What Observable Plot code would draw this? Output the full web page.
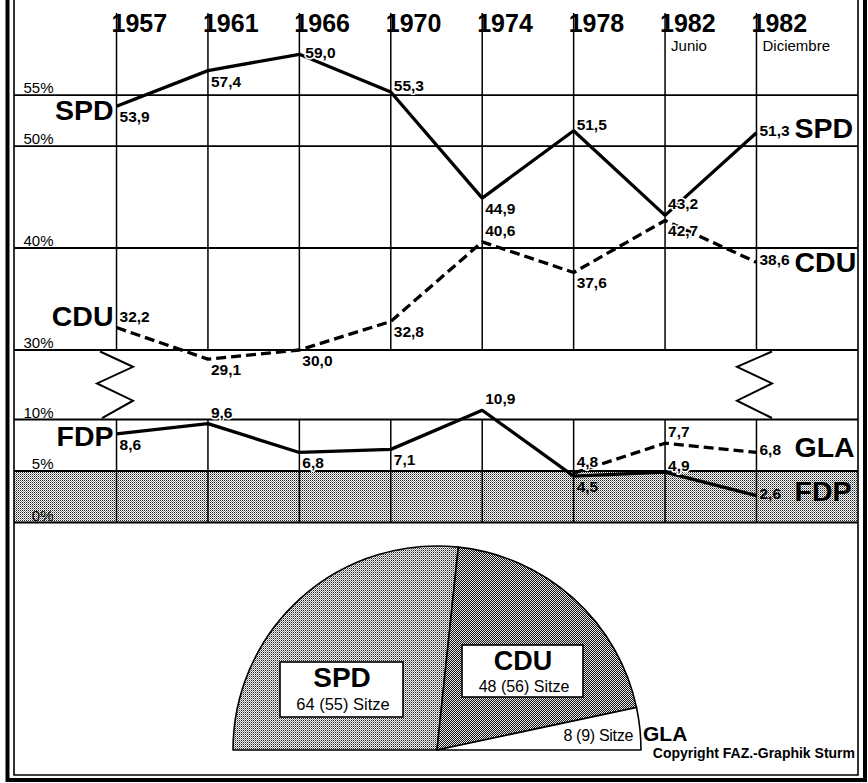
<!DOCTYPE html>
<html><head><meta charset="utf-8">
<script src="https://cdn.jsdelivr.net/npm/d3@7"></script>
<script src="https://cdn.jsdelivr.net/npm/@observablehq/plot@0.6"></script>
<style>
body{margin:0;background:#fff;}
#chart{width:868px;height:783px;}
</style></head><body><div id="chart"></div>
<script>
// ---- data ----
const years = ["1957","1961","1966","1970","1974","1978","1982 Junio","1982 Diciembre"];
const yearLabels = ["1957","1961","1966","1970","1974","1978","1982","1982"];
const yearSub = ["","","","","","","Junio","Diciembre"];
const spd = [53.9,57.4,59.0,55.3,44.9,51.5,43.2,51.3];
const cdu = [32.2,29.1,30.0,32.8,40.6,37.6,42.7,38.6];
const fdp = [8.6,9.6,6.8,7.1,10.9,4.5,4.9,2.6];
const gla = [null,null,null,null,null,4.8,7.7,6.8];
const yTicks = [0,5,10,30,40,50,55];
const seatParties = ["SPD","CDU","GLA"];
const seats = [64,48,8];
const seatsPrev = [55,56,9];

// ---- layout / style ----
const FONT = "'Liberation Sans', Arial, Helvetica, sans-serif";
const disp = v => v > 20 ? 16.75 + (v - 30) * 0.99 : v;  // broken axis
const yMax = 49.42;
const fmt = v => d3.format(".1f")(v).replace(".", ",");
const labelPlace = {SPD:"bbpmbmas", CDU:"abbbabbs", FDP:"babbabms", GLA:"-----aas"};
const placements = {b:{dx:3,dy:11}, a:{dx:3,dy:-11}, m:{dx:3,dy:-6}, s:{dx:3,dy:-2}, p:{dx:6,dy:-1}};
const series = [
  {party:"SPD", values:spd, dash:null},
  {party:"CDU", values:cdu, dash:"10,5"},
  {party:"FDP", values:fdp, dash:null},
  {party:"GLA", values:gla, dash:"10,5"}
];
const rows = [];
series.forEach(s => s.values.forEach((v, i) => {
  if (v != null) rows.push({party:s.party, year:years[i], value:v, place:labelPlace[s.party][i]});
}));
const inBand = d => d.party === "FDP" && d.value < 5 && (d.place === "b" || d.place === "s");

const bigLabels = [
  {party:"SPD", first:true, dy:5}, {party:"CDU", first:true, dy:-11}, {party:"FDP", first:true, dy:3},
  {party:"SPD", first:false, dy:-4}, {party:"CDU", first:false, dy:1},
  {party:"GLA", first:false, dy:-5}, {party:"FDP", first:false, dy:-4}
];

function defsMark() {
  const defs = d3.create("svg:defs");
  const mk = (id, px) => {
    const p = defs.append("pattern").attr("id", id).attr("width", 2).attr("height", 2)
      .attr("patternUnits", "userSpaceOnUse");
    px.forEach(([x, y, c]) => p.append("rect").attr("x", x).attr("y", y).attr("width", 1).attr("height", 1)
      .attr("fill", c).attr("shape-rendering", "crispEdges"));
  };
  mk("bandPat", [[0,0,"#1e1e1e"],[1,0,"#ffffff"],[0,1,"#ffffff"],[1,1,"#8a8a8a"]]);
  mk("spdPat",  [[0,0,"#202020"],[1,0,"#f2f2f2"],[0,1,"#f2f2f2"],[1,1,"#909090"]]);
  mk("cduPat",  [[0,0,"#141414"],[1,0,"#e6e6e6"],[0,1,"#e6e6e6"],[1,1,"#141414"]]);
  return defs.node();
}

function zigzagMark(index, scales) {
  const g = d3.create("svg:g").attr("fill", "none").attr("stroke", "black").attr("stroke-width", 2)
    .attr("stroke-linejoin", "miter");
  const yt = scales.y(disp(30)) + 2, yb = scales.y(disp(10)) - 1;
  const fr = [0, 0.23, 0.48, 0.74, 1];
  const sets = [[years[0], [-16, 17, -19, 17, -14]], [years[years.length - 1], [16, -19, 16, -19, 16]]];
  for (const [yr, offs] of sets) {
    const x0 = scales.x(yr);
    const pts = offs.map((o, k) => [x0 + o, yt + fr[k] * (yb - yt)]);
    g.append("path").attr("d", d3.line()(pts));
  }
  return g.node();
}

function pieMark(index, scales, values, dims) {
  const cx = (dims.marginLeft + dims.width - dims.marginRight) / 2 + 1;
  const cy = 750, r = 204;
  const fills = ["url(#spdPat)", "url(#cduPat)", "#ffffff"];
  const arcs = d3.pie().sort(null).startAngle(-Math.PI / 2).endAngle(Math.PI / 2)(seats);
  const g = d3.create("svg:g").attr("font-family", FONT);
  g.append("g").attr("transform", `translate(${cx},${cy})`)
    .selectAll("path").data(arcs).join("path")
    .attr("d", d3.arc().innerRadius(0).outerRadius(r))
    .attr("fill", (d, i) => fills[i]).attr("stroke", "black").attr("stroke-width", 1.6)
    .attr("stroke-linejoin", "round");
  const boxes = [
    {i:0, x:-157, y:-88, w:123, h:55, t1:-63, t2:-40, cxo:-95, f1:28, f2:16.5},
    {i:1, x:25, y:-105, w:121, h:52, t1:-80, t2:-58, cxo:86, f1:27, f2:16}
  ];
  for (const b of boxes) {
    g.append("rect").attr("x", cx + b.x).attr("y", cy + b.y).attr("width", b.w).attr("height", b.h)
      .attr("fill", "white").attr("stroke", "black").attr("stroke-width", 1.6);
    g.append("text").attr("x", cx + b.cxo).attr("y", cy + b.t1).attr("text-anchor", "middle")
      .attr("font-size", b.f1).attr("font-weight", "bold").text(seatParties[b.i]);
    g.append("text").attr("x", cx + b.cxo + 1).attr("y", cy + b.t2).attr("text-anchor", "middle")
      .attr("font-size", b.f2).text(`${seats[b.i]} (${seatsPrev[b.i]}) Sitze`);
  }
  g.append("text").attr("x", cx + 196).attr("y", cy - 9).attr("text-anchor", "end")
    .attr("font-size", 16).attr("letter-spacing", -0.3).text(`${seats[2]} (${seatsPrev[2]}) Sitze`);
  g.append("text").attr("x", cx + 206).attr("y", cy - 9).attr("text-anchor", "start")
    .attr("font-size", 21).attr("font-weight", "bold").text(seatParties[2]);
  g.append("text").attr("x", dims.width - 13).attr("y", 758).attr("text-anchor", "end")
    .attr("font-size", 14).attr("font-weight", "bold")
    .text("Copyright FAZ.-Graphik Sturm");
  return g.node();
}

function frameMark(index, scales, values, dims) {
  const g = d3.create("svg:g").attr("fill", "none").attr("stroke", "black");
  g.append("path").attr("d", `M${dims.marginLeft},0V775H${dims.width - dims.marginRight}V0`)
    .attr("stroke-width", 1.6);
  g.append("path").attr("d", `M7.5,0V780H865V0`).attr("stroke-width", 4);
  return g.node();
}

const valueMarks = [];
for (const [key, p] of Object.entries(placements)) {
  const base = {x:"year", y:d => disp(d.value), text:d => fmt(d.value), dx:p.dx, dy:p.dy,
    textAnchor:"start", fontSize:15.5, fontWeight:"bold", fill:"black"};
  valueMarks.push(Plot.text(rows.filter(d => d.place === key && !inBand(d)),
    {...base, stroke:"white", strokeWidth:3}));
  valueMarks.push(Plot.text(rows.filter(d => d.place === key && inBand(d)), base));
}

const bigMarks = bigLabels.map(b => {
  const pts = rows.filter(r => r.party === b.party);
  const pt = b.first ? pts[0] : pts[pts.length - 1];
  return Plot.text([pt], {x:"year", y:d => disp(d.value), text:() => b.party,
    textAnchor: b.first ? "end" : "start", dx: b.first ? -3 : 38, dy: b.dy,
    fontSize:28.5, fontWeight:"bold", fill:"black"});
});

const lineMarks = series.map(s => Plot.line(rows.filter(r => r.party === s.party),
  {x:"year", y:d => disp(d.value), stroke:"black", strokeWidth:3.3,
   strokeDasharray: s.dash || undefined, strokeLinejoin:"miter", strokeLinecap:"butt"}));

const plot = Plot.plot({
  width: 868, height: 783,
  marginLeft: 14, marginRight: 10, marginTop: 13, marginBottom: 261,
  style: {background:"white", fontFamily: FONT, overflow:"visible"},
  x: {type:"point", domain: years, padding: 1.116, round: false, axis: null},
  y: {domain: [0, yMax], axis: null},
  marks: [
    defsMark,
    Plot.rect([[0, 5]], {y1:d => disp(d[0]), y2:d => disp(d[1]), fill:"url(#bandPat)"}),
    Plot.ruleY(yTicks, {y: disp, stroke:"black", strokeWidth:1.8}),
    Plot.ruleX(years, {x:d => d, y1:() => disp(30), y2:() => yMax, stroke:"black", strokeWidth:1.5}),
    Plot.ruleX(years, {x:d => d, y1:() => 0, y2:() => disp(10), stroke:"black", strokeWidth:1.5}),
    zigzagMark,
    ...lineMarks,
    ...valueMarks,
    ...bigMarks,
    Plot.text(yTicks, {y: disp, text: d => d + "%", frameAnchor:"left", dx:39, dy:-2,
      textAnchor:"end", lineAnchor:"bottom", fontSize:15, fill:"black"}),
    Plot.text(years, {x:d => d, text:(d, i) => yearLabels[i], frameAnchor:"top", dx:-5, dy:18,
      textAnchor:"start", lineAnchor:"bottom", fontSize:25, fontWeight:"bold", fill:"black", ariaLabel:"years"}),
    Plot.text(years, {x:d => d, text:(d, i) => yearSub[i], frameAnchor:"top", dx:6, dy:37,
      textAnchor:"start", lineAnchor:"bottom", fontSize:15, fill:"black", ariaLabel:"subyears"}),
    pieMark,
    frameMark
  ]
});
document.getElementById("chart").append(plot);
plot.querySelectorAll('g[aria-label="years"] text').forEach(t => t.style.letterSpacing = "-0.8px");
plot.querySelectorAll('g[aria-label="subyears"] text').forEach(t => t.style.letterSpacing = "0.8px");
</script>
</body></html>
